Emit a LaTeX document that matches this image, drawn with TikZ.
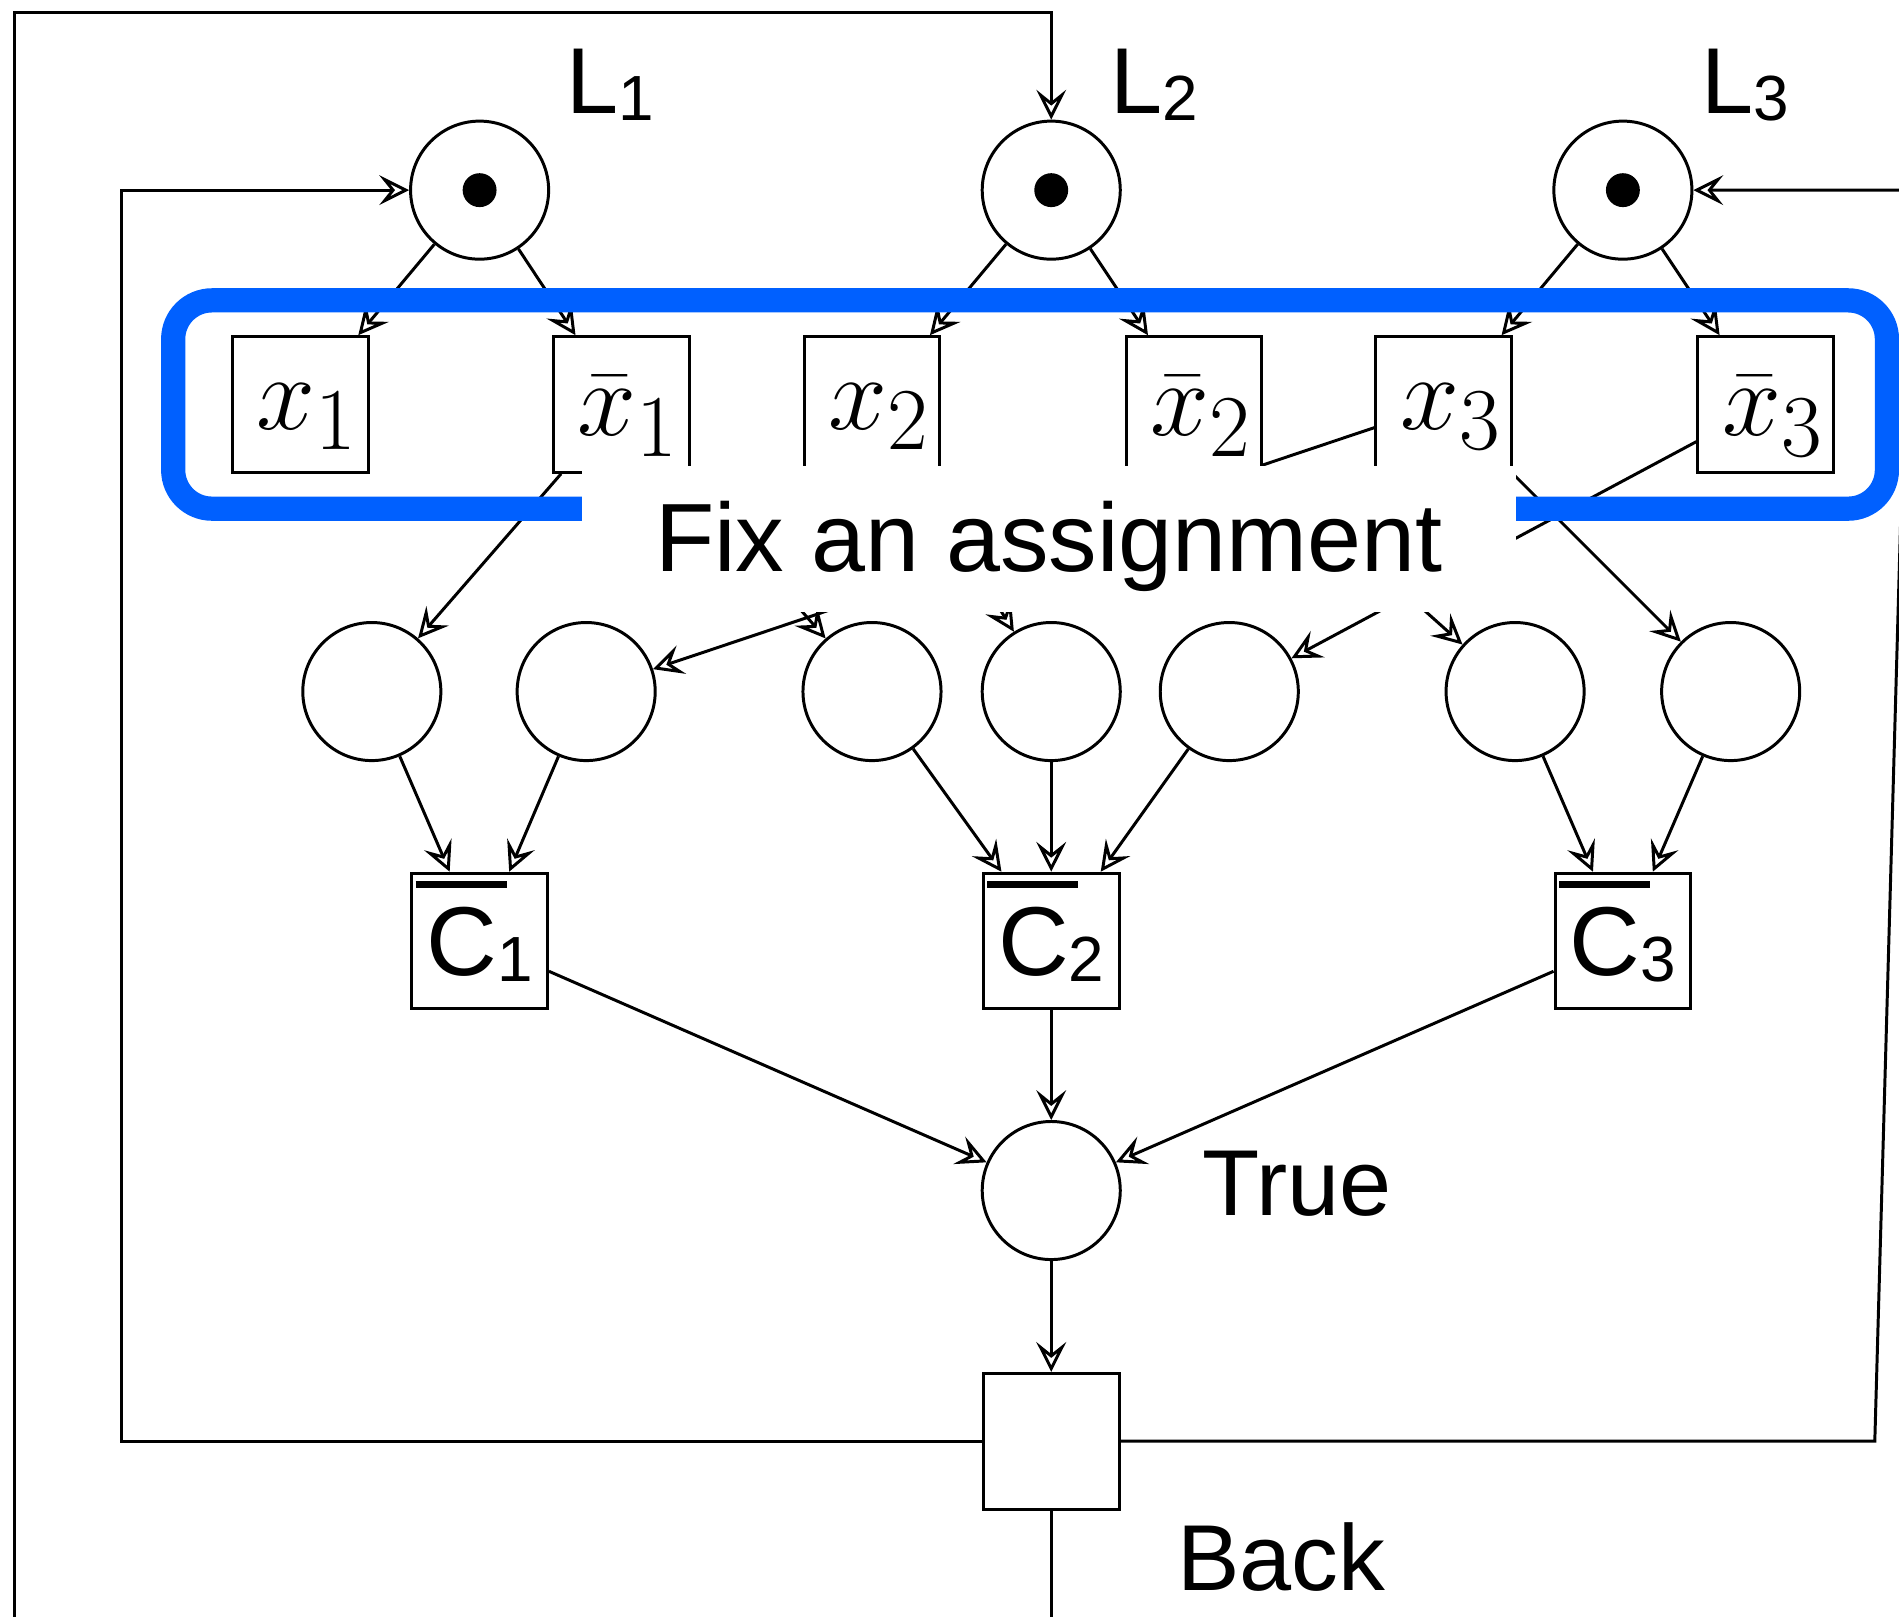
\documentclass[tikz,border=0pt]{standalone}
\usepackage{fontspec}
\setsansfont{Liberation Sans}
\usetikzlibrary{positioning}
\usetikzlibrary{arrows.meta}
\usetikzlibrary{backgrounds}
\definecolor{figAzul}{RGB}{0,96,255}
\newcommand{\indice}[1]{\raisebox{-0.07em}{\fontsize{15}{18}\selectfont #1}}
\newcommand{\clausula}[1]{\makebox[0pt][l]{\hspace{-0.11em}\rule[0.885em]{0.93em}{1.8pt}}C\indice{#1}}
\newcommand{\literal}[1]{\hspace{3.4pt}\raisebox{-2.8pt}[\height][\depth]{$#1$}}
\tikzset{
  lugar/.style={
    circle, draw, line width=0.7pt, fill=white,
    minimum size=1.14cm, inner sep=0pt
  },
  marcado/.style={
    lugar, path picture={\fill[black] (path picture bounding box.center) circle (0.14cm);}
  },
  transicion/.style={
    rectangle, draw, line width=0.7pt, fill=white,
    minimum size=1.12cm, inner sep=0pt, font=\fontsize{24.88}{30}\selectfont
  },
  ctrans/.style={
    transicion, font=\sffamily\fontsize{23}{28}\selectfont,
    text height=19pt, text depth=3pt
  },
  etiqueta/.style={inner sep=0pt, font=\sffamily\fontsize{22}{26}\selectfont},
  flecha/.style={-{Stealth[open, length=7pt, width=7pt, inset=2.8pt]}, line width=0.7pt},
  grupo/.style={draw=figAzul, line width=0.2cm, rounded corners=0.32cm}
}

\begin{document}
\begin{tikzpicture}
  \useasboundingbox (0,0) rectangle (15.68,13.35);
  \clip (0,0) rectangle (15.68,13.35);

  % variables
  \node[marcado] (L1) at (3.96,11.78) {};
  \node[marcado] (L2) at (8.68,11.78) {};
  \node[marcado] (L3) at (13.40,11.78) {};
  \node[etiqueta, above right=0.22cm and 0.30cm of L1, anchor=base west] {L\indice{1}};
  \node[etiqueta, above right=0.22cm and 0.07cm of L2, anchor=base west] {L\indice{2}};
  \node[etiqueta, above right=0.22cm and 0.23cm of L3, anchor=base west] {L\indice{3}};

  \node[transicion] (x1)  at (2.48,10.01)  {\literal{x_1}};
  \node[transicion] (nx1) at (5.13,10.01)  {\literal{\bar{x}_1}};
  \node[transicion] (x2)  at (7.20,10.01)  {\literal{x_2}};
  \node[transicion] (nx2) at (9.86,10.01)  {\literal{\bar{x}_2}};
  \node[transicion] (x3)  at (11.92,10.01) {\literal{x_3}};
  \node[transicion] (nx3) at (14.58,10.01) {\literal{\bar{x}_3}};

  % literals of the clauses
  \node[lugar] (c1a) at (3.07,7.64) {};
  \node[lugar] (c1b) at (4.84,7.64) {};
  \node[lugar] (c2a) at (7.20,7.64) {};
  \node[lugar] (c2b) at (8.68,7.64) {};
  \node[lugar] (c2c) at (10.15,7.64) {};
  \node[lugar] (c3a) at (12.51,7.64) {};
  \node[lugar] (c3b) at (14.29,7.64) {};

  \node[ctrans] (cl1) at (3.96,5.58)  {\clausula{1}};
  \node[ctrans] (cl2) at (8.68,5.58)  {\clausula{2}};
  \node[ctrans] (cl3) at (13.40,5.58) {\clausula{3}};

  \node[lugar] (truth) at (8.68,3.52) {};
  \node[etiqueta, right=0.66cm of truth, yshift=0.06cm] {True};
  \node[transicion] (back) at (8.68,1.45) {};
  \node[etiqueta, below right=0.09cm and 0.46cm of back] {Back};

  \begin{scope}[on background layer]
    \draw[flecha] (L1) -- (x1);
    \draw[flecha] (L1) -- (nx1);
    \draw[flecha] (L2) -- (x2);
    \draw[flecha] (L2) -- (nx2);
    \draw[flecha] (L3) -- (x3);
    \draw[flecha] (L3) -- (nx3);

    \draw[flecha] (nx1) -- (c1a);
    \draw[flecha] (x3) -- (c1b);
    \draw[flecha] (nx1) -- (c2a);
    \draw[flecha] (x2) -- (c2b);
    \draw[flecha] (nx3) -- (c2c);
    \draw[flecha] (nx2) -- (c3a);
    \draw[flecha] (x3) -- (c3b);

    \draw[flecha] (c1a) -- (cl1);
    \draw[flecha] (c1b) -- (cl1);
    \draw[flecha] (c2a) -- (cl2);
    \draw[flecha] (c2b) -- (cl2);
    \draw[flecha] (c2c) -- (cl2);
    \draw[flecha] (c3a) -- (cl3);
    \draw[flecha] (c3b) -- (cl3);

    \draw[flecha] (cl1) -- (truth);
    \draw[flecha] (cl2) -- (truth);
    \draw[flecha] (cl3) -- (truth);
    \draw[flecha] (truth) -- (back);
  \end{scope}

  % loops back to the variables
  \draw[flecha] (back.west) -| (1.00,11.78) -- (L1.west);
  \draw[flecha] (back.east) -- (15.48,1.45) -- (15.77,11.78) -- (L3.east);
  \draw[flecha] (back.south) -- (8.68,-0.5) -| (0.12,13.25) -| (L2.north);

  \draw[grupo] (1.43,10.87) rectangle (15.58,9.15);
  \node[etiqueta, fill=white, minimum width=7.71cm, minimum height=1.2cm,
        font=\sffamily\fontsize{22.8}{27}\selectfont,
        text height=20pt, text depth=4.6pt] (fix) at (8.66,8.90) {Fix an assignment};
\end{tikzpicture}
\end{document}
